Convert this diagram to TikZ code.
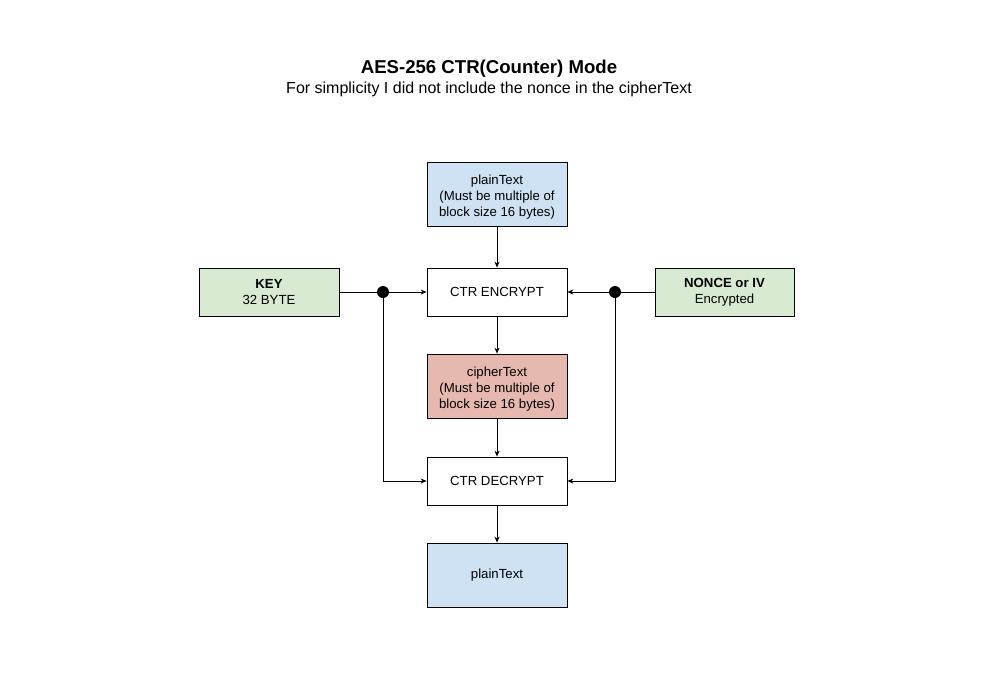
\documentclass[tikz,border=0pt]{standalone}
\usepackage{fontspec}
\setmainfont{Liberation Sans}
\usetikzlibrary{arrows.meta}
\definecolor{cblue}{HTML}{CFE2F3}
\definecolor{cgreen}{HTML}{D9EAD3}
\definecolor{cred}{HTML}{E6B8AF}
\begin{document}
\begin{tikzpicture}[x=1pt,y=-1pt,
  txt/.style={inner sep=0pt,align=center,font=\fontsize{13.2}{16}\selectfont},
  box/.style={txt,draw=black,line width=0.8pt,minimum width=140pt},
  tall/.style={box,minimum height=64pt},
  short/.style={box,minimum height=48pt},
  arr/.style={line width=0.8pt,-{Stealth[length=6pt,width=5pt]}},
  ln/.style={line width=0.8pt},
  dot/.style={circle,fill=black,inner sep=0pt,minimum size=12pt}]
\path[use as bounding box,fill=white] (0,0) rectangle (988,675);
\node[font=\bfseries\fontsize{18.6}{22}\selectfont] (title) at (489,69) {AES-256 CTR(Counter) Mode};
\node[font=\fontsize{16}{19}\selectfont] (sub) at (489,89) {For simplicity I did not include the nonce in the cipherText};
\node[tall,fill=cblue] (pt1) at (497,194) {};
\node[txt] (pt1t) at (497,197) {plainText\\(Must be multiple of\\block size 16 bytes)};
\node[short,fill=white] (enc) at (497,292) {CTR ENCRYPT};
\node[tall,fill=cred] (ct) at (497,386) {};
\node[txt] (ctt) at (497,389) {cipherText\\(Must be multiple of\\block size 16 bytes)};
\node[short,fill=white] (dec) at (497,481) {CTR DECRYPT};
\node[tall,fill=cblue] (pt2) at (497,575) {plainText};
\node[short,fill=cgreen] (key) at (269,292) {\textbf{KEY}\\32 BYTE};
\node[short,fill=cgreen,minimum width=139pt] (nonce) at (724.5,292) {\textbf{NONCE or IV}\\Encrypted};
\node[dot] (d1) at (383,292) {};
\node[dot] (d2) at (615,292) {};
\draw[arr] (pt1) -- (enc);
\draw[arr] (enc) -- (ct);
\draw[arr] (ct) -- (dec);
\draw[arr] (dec) -- (pt2);
\draw[ln] (key) -- (d1);
\draw[arr] (d1) -- (enc);
\draw[ln] (nonce) -- (d2);
\draw[arr] (d2) -- (enc);
\draw[arr] (d1) |- (dec);
\draw[arr] (d2) |- (dec);
\end{tikzpicture}
\end{document}
